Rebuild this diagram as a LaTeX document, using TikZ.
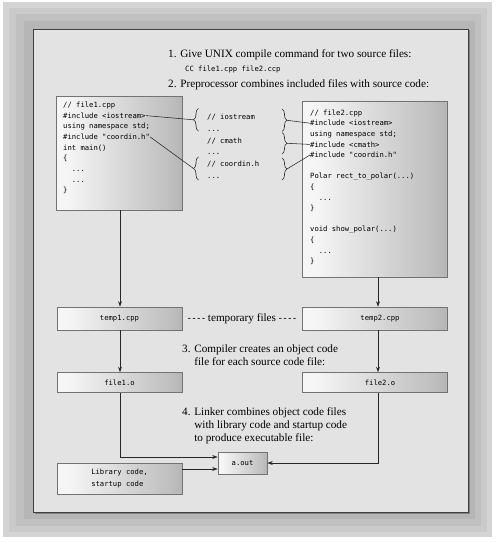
\documentclass[tikz,border=0pt]{standalone}
\usepackage{fontspec}
\setmainfont{Liberation Serif}
\newfontfamily\codefont{DejaVu Sans Mono}
\usetikzlibrary{arrows.meta,decorations.pathreplacing,calc}
\definecolor{bgA}{HTML}{D4D4D4}
\definecolor{bgB}{HTML}{CACACA}
\definecolor{bgC}{HTML}{C0C0C0}
\definecolor{bgD}{HTML}{B6B6B6}
\definecolor{innerbg}{HTML}{E3E3E3}
\pgfdeclarehorizontalshading{boxshade}{100bp}{color(0bp)=(white); color(30bp)=(white!96!black); color(70bp)=(black!25); color(100bp)=(black!48)}
\newcommand\dashrun{\scalebox{0.8}[1]{-}\kern1.8pt\scalebox{0.8}[1]{-}\kern1.8pt\scalebox{0.8}[1]{-}\kern1.8pt\scalebox{0.8}[1]{-}}
\begin{document}
\begin{tikzpicture}[x=1pt,y=-1pt,
  code/.style={anchor=base west,inner sep=0pt,font=\codefont\fontsize{7.2}{8.6}\selectfont},
  steptext/.style={anchor=west,inner sep=0pt,align=left,font=\fontsize{11.2}{12.9}\selectfont},
  filebox/.style={draw=black!55,line width=0.6pt,shade,shading=boxshade,inner sep=0pt,
    font=\codefont\fontsize{7.2}{11.7}\selectfont},
  conn/.style={draw=black!85,line width=0.55pt},
  arr/.style={conn,-{Stealth[length=5.5pt,width=3.8pt]}},
  bracestyle/.style={draw=black!85,line width=0.6pt,decorate,decoration={brace,amplitude=5pt}},
]
\useasboundingbox (0,0) rectangle (500,543);
% background frame
\fill[bgA] (3,2) rectangle (492,537);
\fill[bgB] (9,8) rectangle (487,532);
\fill[bgC] (16,14) rectangle (481,526);
\fill[bgD] (24,21) rectangle (475,519);
\draw[black!50,line width=1.2pt] (469.5,30.5) -- (469.5,513.5) -- (34.5,513.5);
\draw[fill=innerbg,draw=black!75,line width=0.9pt] (33,29) rectangle (468,512);

% column coordinates
\coordinate (c1) at (120,0);
\coordinate (c2) at (378,0);

% step texts
\node[steptext] (s1) at (168,55) {1. Give UNIX compile command for two source files:};
\node[code,anchor=west] (cc) at (185,69.3) {CC file1.cpp file2.ccp};
\node[steptext] (s2) at (168,84.3) {2. Preprocessor combines included files with source code:};

% file1 box
\node[filebox,minimum width=126pt,minimum height=114pt] (f1) at (119,153) {};
\node[code] (a0) at (63,107.6) {// file1.cpp};
\node[code] (a1) at (63,118.3) {\#include <iostream>};
\node[code] (a2) at (63,128.9) {using namespace std;};
\node[code] (a3) at (63,139.6) {\#include "coordin.h"};
\node[code] (a4) at (63,150.3) {int main()};
\node[code] (a5) at (63,160.9) {\{};
\node[code] (a6) at (71.7,171.6) {...};
\node[code] (a7) at (71.7,182.3) {...};
\node[code] (a8) at (63,192.9) {\}};

% included headers
\node[code] (m0) at (207,119) {// iostream};
\node[code] (m1) at (207,131) {...};
\node[code] (m2) at (207,143) {// cmath};
\node[code] (m3) at (207,154) {...};
\node[code] (m4) at (207,166) {// coordin.h};
\node[code] (m5) at (207,178) {...};

% braces
\draw[bracestyle] (198.5,131) -- (198.5,108.5);
\coordinate (lb1) at (193.5,119.8);
\draw[bracestyle] (198.5,180) -- (198.5,157);
\coordinate (lb2) at (193.5,168.5);
\draw[bracestyle] (282,109) -- (282,131.5);
\coordinate (rb1) at (287,120.3);
\draw[bracestyle] (282,132.5) -- (282,154);
\coordinate (rb2) at (287,143.3);
\draw[bracestyle] (282,158) -- (282,180);
\coordinate (rb3) at (287,169);

% file2 box
\node[filebox,minimum width=145pt,minimum height=176pt] (f2) at (374.5,189) {};
\node[code] (b0) at (310,115.3) {// file2.cpp};
\node[code] (b1) at (310,125.9) {\#include <iostream>};
\node[code] (b2) at (310,136.5) {using namespace std;};
\node[code] (b3) at (310,147.1) {\#include <cmath>};
\node[code] (b4) at (310,157.7) {\#include "coordin.h"};
\node[code] (b6) at (310,178.9) {Polar rect\_to\_polar(...)};
\node[code] (b7) at (310,189.5) {\{};
\node[code] (b8) at (318.7,200.1) {...};
\node[code] (b9) at (310,210.7) {\}};
\node[code] (b11) at (310,231.9) {void show\_polar(...)};
\node[code] (b12) at (310,242.5) {\{};
\node[code] (b13) at (318.7,253.1) {...};
\node[code] (b14) at (310,263.7) {\}};

% include connectors
\draw[conn] (a1.east) -- (lb1);
\draw[conn] (a3.east) -- (lb2);
\draw[conn] (rb1) -- (b1.west);
\draw[conn] (rb2) -- (b3.west);
\draw[conn] (rb3) -- (b4.west);

% temporary files
\node[filebox,minimum width=125pt,minimum height=23pt] (t1) at (119.5,318.5) {temp1.cpp};
\node[filebox,minimum width=145pt,minimum height=23pt] (t2) at (374.5,318.5) {};
\node[code,anchor=center] (t2txt) at (380,318.5) {temp2.cpp};
\node[steptext,anchor=center] (tmp) at (242,319) {\dashrun\ temporary files \dashrun};

\node[steptext] (s3) at (182,355.5) {3. Compiler creates an object code\\\hphantom{3. }file for each source code file:};

% object files
\node[filebox,minimum width=125pt,minimum height=20pt] (o1) at (119.5,382.5) {file1.o};
\node[filebox,minimum width=145pt,minimum height=20pt] (o2) at (374.5,382.5) {};
\node[code,anchor=center] (o2txt) at (380,382.5) {file2.o};

\node[steptext] (s4) at (182,426) {4. Linker combines object code files\\\hphantom{4. }with library code and startup code\\\hphantom{4. }to produce executable file:};

% linker
\node[filebox,minimum width=49pt,minimum height=22pt] (aout) at (242.5,463) {a.out};
\node[filebox,minimum width=125pt,minimum height=31pt,align=left] (lib) at (119.5,478.5) {Library code,\\startup code};

% arrows
\draw[arr] (f1.south -| c1) -- (t1.north -| c1);
\draw[arr] (t1.south -| c1) -- (o1.north -| c1);
\draw[arr] (f2.south -| c2) -- (t2.north -| c2);
\draw[arr] (t2.south -| c2) -- (o2.north -| c2);
\draw[arr] (o1.south -| c1) |- ([yshift=6pt]aout.west);
\draw[arr] ([yshift=-6pt]aout.west -| lib.east) -- ([yshift=-6pt]aout.west);
\draw[arr] (o2.south -| c2) |- (aout.east);
\end{tikzpicture}
\end{document}
